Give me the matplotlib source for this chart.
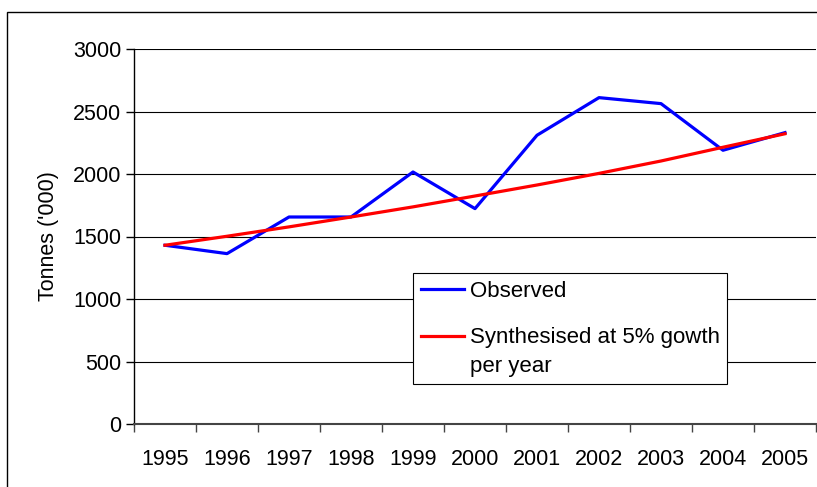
import matplotlib
matplotlib.use("Agg")
import matplotlib.pyplot as plt
from matplotlib.patches import Rectangle
from matplotlib.legend_handler import HandlerLine2D
import numpy as np

years = ["1995", "1996", "1997", "1998", "1999", "2000",
         "2001", "2002", "2003", "2004", "2005"]
observed = [1430, 1363, 1656, 1656, 2016, 1723, 2310, 2611, 2563, 2190, 2331]
synthesised = [1430, 1502, 1577, 1656, 1737, 1824, 1912, 2005, 2104, 2214, 2322]
yticks = [0, 500, 1000, 1500, 2000, 2500, 3000]

plt.rcParams["font.family"] = ["Liberation Sans", "DejaVu Sans"]


class TopLineHandler(HandlerLine2D):
    # put the legend line level with the first line of a two-line label
    def __init__(self, shift=0.0, **kw):
        super().__init__(**kw)
        self.shift = shift

    def create_artists(self, legend, orig_handle, xdescent, ydescent,
                       width, height, fontsize, trans):
        arts = super().create_artists(legend, orig_handle, xdescent, ydescent,
                                      width, height, fontsize, trans)
        for a in arts:
            a.set_ydata(np.asarray(a.get_ydata()) + self.shift * fontsize)
        return arts


W, H = 817, 487
fig = plt.figure(figsize=(W / 100, H / 100), dpi=100)
fig.patch.set_facecolor("white")

# outer chart frame
fig.patches.append(Rectangle((7 / W, -0.1), 1.2, 1 - 12 / H + 0.1,
                             transform=fig.transFigure, fill=False,
                             edgecolor="black", linewidth=1.0))

left, right, top, bottom = 134, 816, 49, 424
ax = fig.add_axes([left / W, 1 - bottom / H, (right - left) / W, (bottom - top) / H])

x = np.arange(len(years))
obs_line, = ax.plot(x, observed, color="#0000ff", linewidth=2.3, label="Observed")
syn_line, = ax.plot(x, synthesised, color="#ff0000", linewidth=2.3,
                    label="Synthesised at 5% gowth\nper year")

ax.set_xlim(-0.5, len(years) - 0.5)
ax.set_ylim(0, 3000)
ax.set_yticks(yticks)
ax.set_yticklabels([str(v) for v in yticks])
ax.yaxis.grid(True, color="black", linewidth=0.8)
ax.set_axisbelow(True)

ax.set_xticks(x)
ax.set_xticklabels(years)
ax.set_xticks(np.arange(-0.5, len(years)), minor=True)
ax.tick_params(axis="x", which="major", length=0, pad=18, labelsize=15.5)
ax.tick_params(axis="x", which="minor", length=6, width=1.0, color="#444444")
ax.tick_params(axis="y", length=6, width=1.0, labelsize=15.5, pad=3)

for side in ("top", "right"):
    ax.spines[side].set_visible(False)
ax.spines["left"].set_linewidth(1.0)
ax.spines["bottom"].set_linewidth(1.5)
ax.spines["bottom"].set_color("#444444")

ax.set_ylabel("Tonnes ('000)", fontsize=15.5, labelpad=10)

leg = ax.legend(loc="upper left", bbox_to_anchor=(413 / W, 1 - 273 / H),
                bbox_transform=fig.transFigure, fontsize=16, frameon=True,
                fancybox=False, handlelength=1.95, handletextpad=0.25,
                labelspacing=1.15, borderpad=0.35, borderaxespad=0,
                handler_map={syn_line: TopLineHandler(shift=0.72)})
for t in leg.get_texts():
    t.set_linespacing(1.45)
leg.get_frame().set_edgecolor("black")
leg.get_frame().set_linewidth(0.8)
leg.get_frame().set_alpha(1)

fig.savefig("out.png", dpi=100)
